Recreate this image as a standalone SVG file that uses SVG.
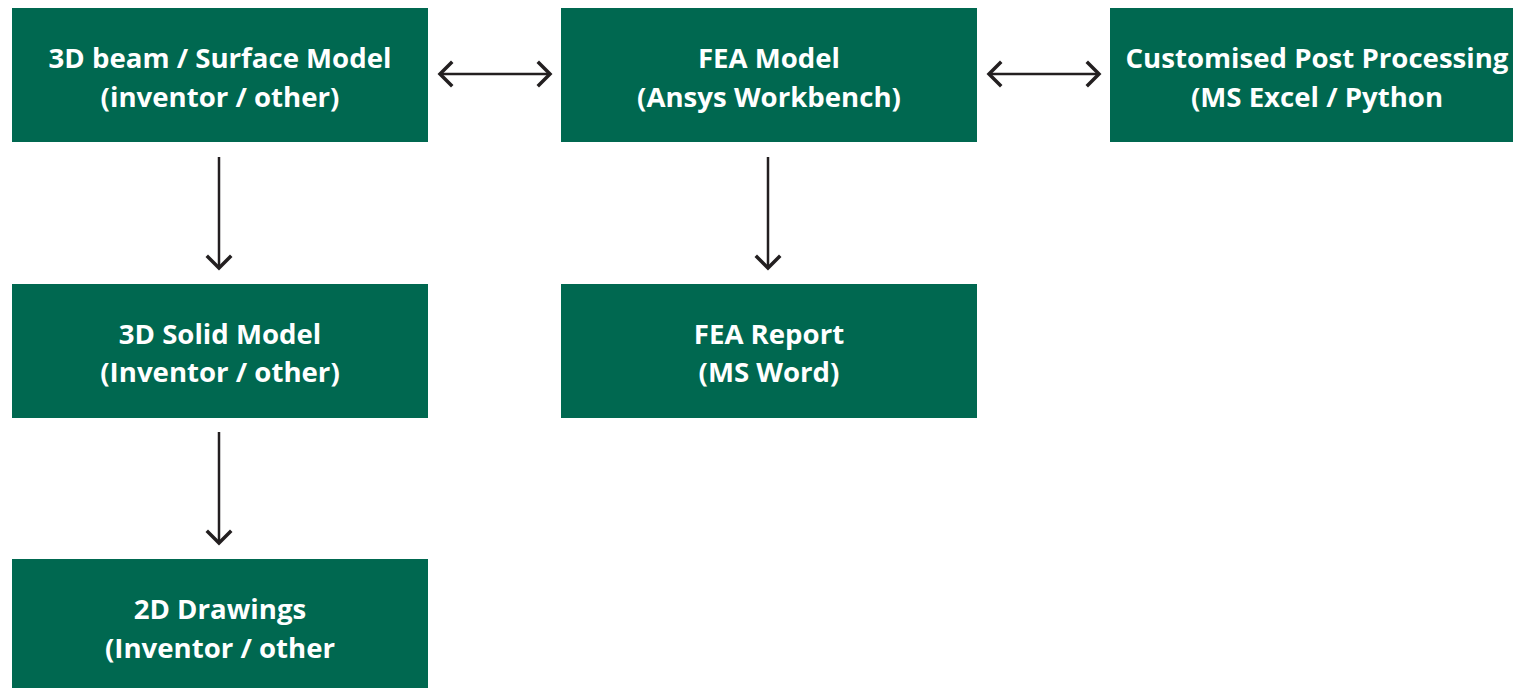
<svg xmlns="http://www.w3.org/2000/svg" width="1513" height="688" viewBox="0 0 1513 688">
<style>
.box{fill:#006850}
.t{font-family:"Open Sans","Noto Sans",sans-serif;font-weight:700;font-size:27.6px;fill:#fff;text-anchor:middle}
.c{stroke:#231f20;stroke-width:2.5;fill:none}
.h{stroke:#231f20;stroke-width:3.5;fill:none;stroke-linecap:square}
</style>
<rect width="1513" height="688" fill="#fff"/>
<g id="n1"><rect class="box" x="12" y="8" width="416" height="134"/><text class="t" x="220" y="68">3D beam / Surface Model</text><text class="t" x="220" y="107">(inventor / other)</text></g>
<g id="n2"><rect class="box" x="561" y="8" width="416" height="134"/><text class="t" x="769" y="68">FEA Model</text><text class="t" x="769" y="107">(Ansys Workbench)</text></g>
<g id="n3"><rect class="box" x="1110" y="8" width="403" height="134"/><text class="t" x="1317" y="68">Customised Post Processing</text><text class="t" x="1317" y="107">(MS Excel / Python</text></g>
<g id="n4"><rect class="box" x="12" y="284" width="416" height="134"/><text class="t" x="220" y="344">3D Solid Model</text><text class="t" x="220" y="382">(Inventor / other)</text></g>
<g id="n5"><rect class="box" x="561" y="284" width="416" height="134"/><text class="t" x="769" y="344">FEA Report</text><text class="t" x="769" y="382">(MS Word)</text></g>
<g id="n6"><rect class="box" x="12" y="559" width="416" height="129"/><text class="t" x="220" y="619">2D Drawings</text><text class="t" x="220" y="658">(Inventor / other</text></g>
<g id="connectors">
<path class="c" d="M440 74H550"/><path class="h" d="M451 63L440 74L451 85M539 63L550 74L539 85"/>
<path class="c" d="M989 74H1099"/><path class="h" d="M1000 63L989 74L1000 85M1088 63L1099 74L1088 85"/>
<path class="c" d="M219 157V268"/><path class="h" d="M208 257L219 268L230 257"/>
<path class="c" d="M219 432V543"/><path class="h" d="M208 532L219 543L230 532"/>
<path class="c" d="M768 157V268"/><path class="h" d="M757 257L768 268L779 257"/>
</g>
</svg>
